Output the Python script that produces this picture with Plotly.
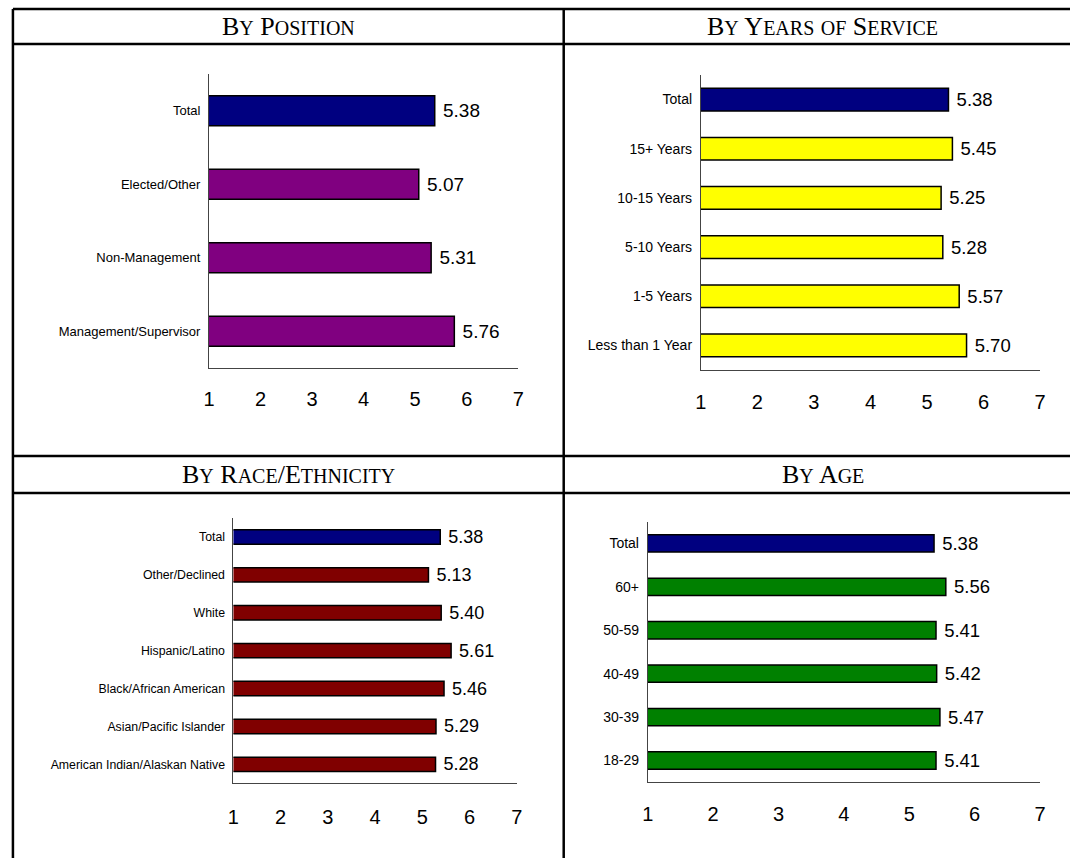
import plotly.graph_objects as go

W, H = 1076, 858

# ---- data ----
pos_cats = ["Total", "Elected/Other", "Non-Management", "Management/Supervisor"]
pos_vals = [5.38, 5.07, 5.31, 5.76]

yrs_cats = ["Total", "15+ Years", "10-15 Years", "5-10 Years", "1-5 Years", "Less than 1 Year"]
yrs_vals = [5.38, 5.45, 5.25, 5.28, 5.57, 5.70]

race_cats = ["Total", "Other/Declined", "White", "Hispanic/Latino",
             "Black/African American", "Asian/Pacific Islander", "American Indian/Alaskan Native"]
race_vals = [5.38, 5.13, 5.40, 5.61, 5.46, 5.29, 5.28]

age_cats = ["Total", "60+", "50-59", "40-49", "30-39", "18-29"]
age_vals = [5.38, 5.56, 5.41, 5.42, 5.47, 5.41]

x_ticks = [1, 2, 3, 4, 5, 6, 7]
titles = ["By Position", "By Years of Service", "By Race/Ethnicity", "By Age"]

# ---- styling ----
SANS = "Liberation Sans, Arial, sans-serif"
SERIF = "Liberation Serif, Times New Roman, serif"
TOTAL_COLOR = "#000080"

panels = [
    dict(cats=pos_cats, vals=pos_vals, color="#800080", box=(205.3, 518, 74, 368),
         catsize=13, valsize=19, gap=0.59, tl=12.5),
    dict(cats=yrs_cats, vals=yrs_vals, color="#FFFF00", box=(702.7, 1045.7, 75, 370),
         catsize=14, valsize=18.5, gap=0.54, tl=14),
    dict(cats=race_cats, vals=race_vals, color="#800000", box=(230, 516.5, 518, 783.3),
         catsize=12.3, valsize=18, gap=0.62, tl=15.5),
    dict(cats=age_cats, vals=age_vals, color="#008000", box=(649, 1045.6, 521.7, 782.2),
         catsize=14, valsize=18.5, gap=0.6, tl=13.5),
]

fig = go.Figure()
layout = dict(width=W, height=H, margin=dict(l=0, r=0, t=0, b=0),
              paper_bgcolor="white", plot_bgcolor="white", showlegend=False)

for i, p in enumerate(panels, start=1):
    sfx = "" if i == 1 else str(i)
    x0, x1, y0, y1 = p["box"]
    colors = [TOTAL_COLOR if c == "Total" else p["color"] for c in p["cats"]]
    fig.add_trace(go.Bar(
        x=p["vals"], y=p["cats"], orientation="h",
        marker=dict(color=colors, line=dict(color="black", width=1.5)),
        texttemplate="\u00a0%{x:.2f}", textposition="outside",
        textfont=dict(color="black", family=SANS, size=p["valsize"]), constraintext="none",
        xaxis="x" + sfx, yaxis="y" + sfx, hoverinfo="skip", width=1 - p["gap"],
    ))
    layout["xaxis" + sfx] = dict(
        domain=[x0 / W, x1 / W], anchor="y" + sfx, range=[1, 7], tickvals=x_ticks,
        showline=True, linecolor="#444", linewidth=1, showgrid=False, zeroline=False,
        ticks="outside", ticklen=p["tl"], tickcolor="rgba(0,0,0,0)",
        tickfont=dict(family=SANS, size=20, color="black"), fixedrange=True,
    )
    layout["yaxis" + sfx] = dict(
        domain=[1 - y1 / H, 1 - y0 / H], anchor="x" + sfx, type="category",
        autorange="reversed", showline=True, linecolor="#444", linewidth=1,
        showgrid=False, zeroline=False, ticks="outside", ticklen=5, fixedrange=True,
        tickcolor="rgba(0,0,0,0)", tickfont=dict(color="black", family=SANS, size=p["catsize"]),
    )

fig.update_layout(**layout)

# ---- table frame ----
LW = 2.5
frame = [
    (7, 9, W, 9), (7, 44, W, 44), (7, 456, W, 456), (7, 493, W, 493),
    (7, 9, 7, H), (564, 9, 564, H),
]
for (ax0, ay0, ax1, ay1) in frame:
    fig.add_shape(type="line", xref="paper", yref="paper",
                  x0=ax0 / W, x1=ax1 / W, y0=1 - ay0 / H, y1=1 - ay1 / H,
                  line=dict(color="black", width=LW))


def small_caps(t, big=26, small=20):
    out = []
    for ch in t:
        if ch.islower():
            out.append(f'<span style="font-size:{small}px">{ch.upper()}</span>')
        else:
            out.append(f'<span style="font-size:{big}px">{ch}</span>')
    return "".join(out)


title_pos = [(285.5, 27), (826, 27), (285.5, 475), (826, 475)]
for t, (tx, ty) in zip(titles, title_pos):
    fig.add_annotation(text=small_caps(t), x=tx / W, y=1 - ty / H, xref="paper", yref="paper",
                       showarrow=False, xanchor="center", yanchor="middle",
                       font=dict(family=SERIF, size=26, color="black"))

fig.write_html("out.html",
               config={"displayModeBar": False, "staticPlot": True},
               post_script="document.body.style.margin='0';document.body.style.overflow='hidden';")
